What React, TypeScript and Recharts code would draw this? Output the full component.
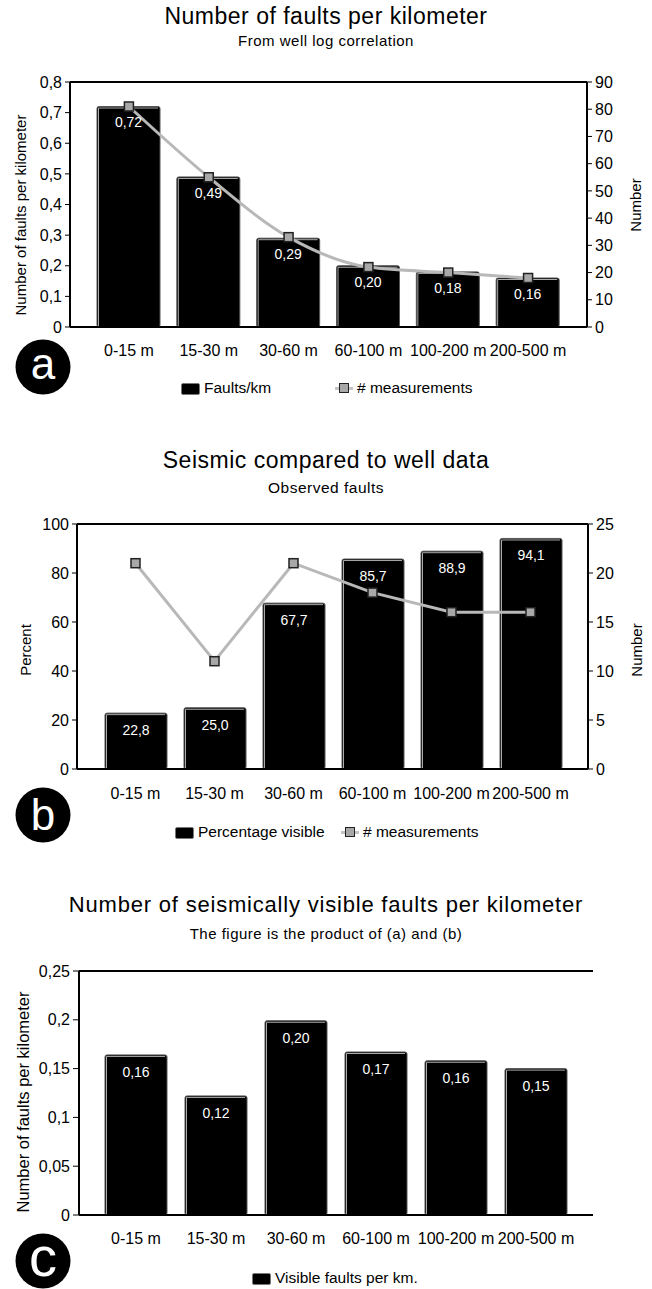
import React from 'react'
import {
  ComposedChart, Bar, Line, XAxis, YAxis, ReferenceLine, LabelList,
} from 'recharts'

const categories = ['0-15 m', '15-30 m', '30-60 m', '60-100 m', '100-200 m', '200-500 m']

// (a) well log correlation
const faultsPerKm = [0.72, 0.49, 0.29, 0.2, 0.18, 0.16]
const measurementsA = [81, 55, 33, 22, 20, 18]
// (b) seismic vs well
const percentVisible = [22.8, 25.0, 67.7, 85.7, 88.9, 94.1]
const measurementsB = [21, 11, 21, 18, 16, 16]
// (c) product
const visibleFaults = [0.164, 0.122, 0.199, 0.167, 0.158, 0.15]

const ticksA = [0, 0.1, 0.2, 0.3, 0.4, 0.5, 0.6, 0.7, 0.8]
const ticksANum = [0, 10, 20, 30, 40, 50, 60, 70, 80, 90]
const ticksB = [0, 20, 40, 60, 80, 100]
const ticksBNum = [0, 5, 10, 15, 20, 25]
const ticksC = [0, 0.05, 0.1, 0.15, 0.2, 0.25]

const dataA = categories.map((name, i) => ({ name, bar: faultsPerKm[i], n: measurementsA[i] }))
const dataB = categories.map((name, i) => ({ name, bar: percentVisible[i], n: measurementsB[i] }))
const dataC = categories.map((name, i) => ({ name, bar: visibleFaults[i] }))

const FONT = '"Liberation Sans", Arial, Helvetica, sans-serif'
const comma = (v: number) => String(v).replace('.', ',')
const fix = (d: number) => (v: any) => Number(v).toFixed(d).replace('.', ',')

const tickStyle = { fontSize: 16, fill: '#000', fontFamily: FONT }
const axisLine = { stroke: '#000', strokeWidth: 2 }

const BevelBar = (props: any) => {
  const { x, y, width, height } = props
  if (!height) return null
  return (
    <g>
      <rect x={x} y={y} width={width} height={height} rx={2} fill="#000" stroke="#555" strokeWidth={1} />
      <path d={`M${x + 1.5},${y + height} V${y + 1.5} H${x + width - 2}`} fill="none" stroke="#aaa" strokeWidth={1} />
    </g>
  )
}

const squareDot = (p: any) => (
  <rect key={`d${p.index}`} x={p.cx - 4.5} y={p.cy - 4.5} width={9} height={9}
    fill="#a8a8a8" stroke="#222" strokeWidth={1.5} />
)

const Abs = ({ left, top, children, style }: any) => (
  <div style={{ position: 'absolute', left, top, ...style }}>{children}</div>
)

const Title = ({ y, size, text, spacing }: any) => (
  <div style={{
    position: 'absolute', left: 0, width: 652, top: y - size / 2, fontSize: size,
    lineHeight: `${size}px`, textAlign: 'center', letterSpacing: spacing, whiteSpace: 'nowrap',
  }}>{text}</div>
)

const VLabel = ({ cx, cy, size, text }: any) => (
  <div style={{
    position: 'absolute', left: cx, top: cy, fontSize: size, lineHeight: `${size}px`,
    whiteSpace: 'nowrap', transform: 'translate(-50%, -50%) rotate(-90deg)',
  }}>{text}</div>
)

const Badge = ({ cx, cy, letter, size, base }: any) => (
  <svg style={{ position: 'absolute', left: cx - 40, top: cy - 40 }} width={80} height={80}>
    <circle cx={40} cy={40} r={27.5} fill="#000" />
    <text x={40} y={40 + base} textAnchor="middle" fontSize={size} fill="#fff" fontFamily={FONT}>{letter}</text>
  </svg>
)

const BarKey = ({ left, cy, text }: any) => (
  <>
    <div style={{
      position: 'absolute', left, top: cy - 5.5, width: 17, height: 10, background: '#000',
      border: '1px solid #777', borderRadius: 2,
    }} />
    <Abs left={left + 23} top={cy - 8} style={{ fontSize: 15.5, lineHeight: '16px', whiteSpace: 'nowrap' }}>{text}</Abs>
  </>
)

const LineKey = ({ left, cy, text }: any) => (
  <>
    <div style={{ position: 'absolute', left, top: cy - 1.5, width: 18, height: 3, background: '#c4c4c4' }} />
    <div style={{
      position: 'absolute', left: left + 4, top: cy - 5, width: 8, height: 8, background: '#a8a8a8',
      border: '1.5px solid #222',
    }} />
    <Abs left={left + 22} top={cy - 8} style={{ fontSize: 15.5, lineHeight: '16px', whiteSpace: 'nowrap' }}>{text}</Abs>
  </>
)

const labelStyle = { fill: '#fff', fontSize: 14, fontFamily: FONT }

export default function App() {
  return (
    <div style={{
      position: 'absolute', left: 0, top: 0, width: 652, height: 1289, background: '#fff',
      fontFamily: FONT, color: '#000', overflow: 'hidden',
    }}>
      {/* (a) */}
      <Title y={16} size={23} spacing={0.5} text="Number of faults per kilometer" />
      <Title y={40} size={15} spacing={0.5} text="From well log correlation" />
      <Abs left={0} top={0}>
        <ComposedChart width={652} height={380} data={dataA} margin={{ top: 82, right: 10, bottom: 23, left: 10 }}>
          <XAxis dataKey="name" height={30} tickLine={false} tickSize={0} tickMargin={18}
            axisLine={axisLine} tick={tickStyle} interval={0} padding={{ left: 19, right: 19 }} />
          <YAxis yAxisId="left" width={60} domain={[0, 0.8]} ticks={ticksA} tickFormatter={comma}
            tick={tickStyle} tickSize={5} tickMargin={3} axisLine={axisLine} tickLine={{ stroke: '#000' }} />
          <YAxis yAxisId="right" orientation="right" width={55} domain={[0, 90]} ticks={ticksANum}
            tick={tickStyle} tickSize={5} tickMargin={3} axisLine={axisLine} tickLine={{ stroke: '#000' }} />
          <ReferenceLine yAxisId="left" y={0.8} stroke="#000" strokeWidth={2} />
          <Bar yAxisId="left" dataKey="bar" barSize={63} shape={BevelBar} isAnimationActive={false}>
            <LabelList dataKey="bar" position="insideTop" offset={11} formatter={fix(2)} style={labelStyle} />
          </Bar>
          <Line yAxisId="right" dataKey="n" type="monotone" stroke="#b8b8b8" strokeWidth={3}
            dot={squareDot} activeDot={false} isAnimationActive={false} />
        </ComposedChart>
      </Abs>
      <VLabel cx={20} cy={215} size={15} text="Number of faults per kilometer" />
      <VLabel cx={635} cy={205} size={15} text="Number" />
      <Badge cx={43} cy={367} letter="a" size={44} base={11.5} />
      <BarKey left={181} cy={388} text="Faults/km" />
      <LineKey left={335} cy={388} text="# measurements" />

      {/* (b) */}
      <Title y={460} size={23} spacing={0.5} text="Seismic compared to well data" />
      <Title y={488} size={15.5} spacing={0.5} text="Observed faults" />
      <Abs left={0} top={440}>
        <ComposedChart width={652} height={380} data={dataB} margin={{ top: 84, right: 9, bottom: 21, left: 17 }}>
          <XAxis dataKey="name" height={30} tickLine={false} tickSize={0} tickMargin={19}
            axisLine={axisLine} tick={tickStyle} interval={0} padding={{ left: 19, right: 18 }} />
          <YAxis yAxisId="left" width={60} domain={[0, 100]} ticks={ticksB}
            tick={tickStyle} tickSize={5} tickMargin={3} axisLine={axisLine} tickLine={{ stroke: '#000' }} />
          <YAxis yAxisId="right" orientation="right" width={55} domain={[0, 25]} ticks={ticksBNum}
            tick={tickStyle} tickSize={5} tickMargin={3} axisLine={axisLine} tickLine={{ stroke: '#000' }} />
          <ReferenceLine yAxisId="left" y={100} stroke="#000" strokeWidth={2} />
          <Bar yAxisId="left" dataKey="bar" barSize={62} shape={BevelBar} isAnimationActive={false}>
            <LabelList dataKey="bar" position="insideTop" offset={12} formatter={fix(1)} style={labelStyle} />
          </Bar>
          <Line yAxisId="right" dataKey="n" type="linear" stroke="#b8b8b8" strokeWidth={3}
            dot={squareDot} activeDot={false} isAnimationActive={false} />
        </ComposedChart>
      </Abs>
      <VLabel cx={25} cy={650} size={15} text="Percent" />
      <VLabel cx={636} cy={650} size={15} text="Number" />
      <Badge cx={43} cy={815} letter="b" size={44} base={15} />
      <BarKey left={175} cy={832} text="Percentage visible" />
      <LineKey left={341} cy={832} text="# measurements" />

      {/* (c) */}
      <Title y={905} size={22} spacing={0.8} text="Number of seismically visible faults per kilometer" />
      <Title y={933} size={15} spacing={0.5} text="The figure is the product of (a) and (b)" />
      <Abs left={0} top={900}>
        <ComposedChart width={652} height={380} data={dataC} margin={{ top: 71, right: 59, bottom: 35, left: 19 }}>
          <XAxis dataKey="name" height={30} tickLine={false} tickSize={0} tickMargin={18}
            axisLine={axisLine} tick={tickStyle} interval={0} padding={{ left: 17, right: 17 }} />
          <YAxis yAxisId="left" width={60} domain={[0, 0.25]} ticks={ticksC} tickFormatter={comma}
            tick={tickStyle} tickSize={6} tickMargin={3} axisLine={axisLine} tickLine={{ stroke: '#000' }} />
          <YAxis yAxisId="frame" orientation="right" width={0} domain={[0, 1]} tick={false}
            tickLine={false} axisLine={axisLine} />
          <ReferenceLine yAxisId="left" y={0.25} stroke="#000" strokeWidth={2} />
          <Bar yAxisId="left" dataKey="bar" barSize={62} shape={BevelBar} isAnimationActive={false}>
            <LabelList dataKey="bar" position="insideTop" offset={12} formatter={fix(2)} style={labelStyle} />
          </Bar>
        </ComposedChart>
      </Abs>
      <VLabel cx={23} cy={1102} size={16.5} text="Number of faults per kilometer" />
      <Badge cx={43} cy={1261} letter="c" size={56} base={14.5} />
      <BarKey left={252} cy={1278} text="Visible faults per km." />
    </div>
  )
}
